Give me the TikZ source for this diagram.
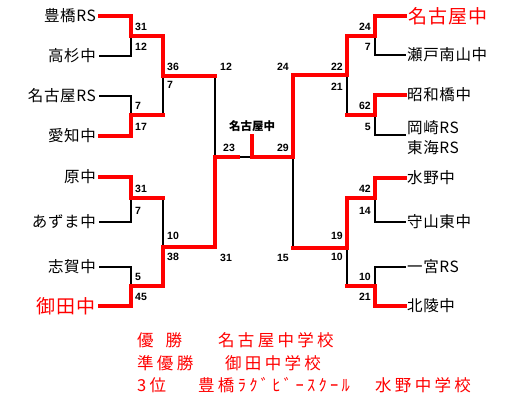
\documentclass[tikz,border=0pt]{standalone}
\usepackage{fontspec}
\usepackage{xcolor}
\usetikzlibrary{positioning,calc}
\newfontfamily\teamfont{Noto Sans CJK JP}[LetterSpace=4]
\newfontfamily\champfont{Noto Sans CJK JP}[LetterSpace=6]
\newfontfamily\resultfont{Noto Sans CJK JP}[LetterSpace=20]
\newfontfamily\finalfont{Noto Sans CJK JP}
\newfontfamily\scorefont{Liberation Sans}
\definecolor{winred}{HTML}{FF0000}
\tikzset{
  team/.style={inner sep=0pt,font=\teamfont\fontsize{15.5}{20}\selectfont},
  lteam/.style={team,anchor=east},
  rteam/.style={team,anchor=west,align=left},
  lchamp/.style={inner sep=0pt,anchor=east,text=winred,
                 font=\champfont\fontsize{19}{19}\selectfont},
  rchamp/.style={lchamp,anchor=west},
  score/.style={inner sep=0pt,font=\scorefont\bfseries\fontsize{10.5}{11}\selectfont},
  lscore/.style={score,anchor=west},
  rscore/.style={score,anchor=east},
  finalname/.style={inner sep=0pt,font=\finalfont\bfseries\fontsize{11.5}{12}\selectfont},
  result/.style={inner sep=0pt,anchor=west,text=winred,
                 font=\resultfont\fontsize{16.5}{17}\selectfont},
  winline/.style={draw=winred,line width=3.2pt,line cap=rect},
  loseline/.style={draw=black,line width=2.4pt,line cap=rect}
}

\begin{document}
\begin{tikzpicture}[x=1pt,y=-1pt]
    \fill[white] (0,0) rectangle (521,400);
    \useasboundingbox (0,0) rectangle (521,400);

    % first round line ends
    \coordinate (L1) at (100,16);
    \coordinate (L2) at (100,56);
    \coordinate (L3) at (100,96);
    \coordinate (L4) at (100,136);
    \coordinate (L5) at (100,177);
    \coordinate (L6) at (100,222);
    \coordinate (L7) at (100,267);
    \coordinate (L8) at (100,306);
    \coordinate (R1) at (405,16);
    \coordinate (R2) at (405,55);
    \coordinate (R3) at (405,95);
    \coordinate (R4) at (405,135);
    \coordinate (R5) at (405,178);
    \coordinate (R6) at (405,222);
    \coordinate (R7) at (405,267);
    \coordinate (R8) at (405,306);
    % junctions
    \coordinate (La) at (131,36);
    \coordinate (Lb) at (131,115);
    \coordinate (Lc) at (131,198);
    \coordinate (Ld) at (131,286);
    \coordinate (Le) at (163,76);
    \coordinate (Lf) at (163,247);
    \coordinate (Lg) at (215,157);
    \coordinate (Ra) at (375,36);
    \coordinate (Rb) at (375,115);
    \coordinate (Rc) at (375,198);
    \coordinate (Rd) at (375,286);
    \coordinate (Re) at (347,75);
    \coordinate (Rf) at (347,248);
    \coordinate (Rg) at (293,157);
    \coordinate (Fs) at (238,157);
    \coordinate (F) at (252,157);
    \coordinate (Fw) at (252,136);

    \draw[loseline] (L2) -| (La);
    \draw[loseline] (L3) -| (Lb);
    \draw[loseline] (Lb -| Le) -- (Le);
    \draw[loseline] (L6) -| (Lc);
    \draw[loseline] (Lc -| Lf) -- (Lf);
    \draw[loseline] (L7) -| (Ld);
    \draw[loseline] (Le -| Lg) -- (Lg);
    \draw[loseline] (Fs) -- (F);
    \draw[loseline] (R2) -| (Ra);
    \draw[loseline] (R4) -| (Rb);
    \draw[loseline] (Rb -| Re) -- (Re);
    \draw[loseline] (R6) -| (Rc);
    \draw[loseline] (R7) -| (Rd);
    \draw[loseline] (Rd -| Rf) -- (Rf);
    \draw[loseline] (Rf -| Rg) -- (Rg);

    \draw[winline] (L1) -| (La) -| (Le) -- (Le -| Lg);
    \draw[winline] (L4) -| (Lb) -- (Lb -| Le);
    \draw[winline] (L5) -| (Lc) -- (Lc -| Lf);
    \draw[winline] (L8) -| (Ld) -| (Lf) -- (Lf -| Lg) -- (Lg) -- (Fs);
    \draw[winline] (R1) -| (Ra) -| (Re) -- (Re -| Rg) -- (Rg) -- (F) -- (Fw);
    \draw[winline] (R3) -| (Rb) -- (Rb -| Re);
    \draw[winline] (R5) -| (Rc) -| (Rf) -- (Rf -| Rg);
    \draw[winline] (R8) -| (Rd) -- (Rd -| Rf);

    % teams
    \node[lteam] (toyohashi) at ([xshift=-4pt]L1) {豊橋RS};
    \node[lteam] (takasugi) at ([xshift=-4pt]L2) {高杉中};
    \node[lteam] (nagoyars) at ([xshift=-4pt]L3) {名古屋RS};
    \node[lteam] (aichi) at ([xshift=-4pt]L4) {愛知中};
    \node[lteam] (hara) at ([xshift=-4pt]L5) {原中};
    \node[lteam] (azuma) at ([xshift=-4pt]L6) {あずま中};
    \node[lteam] (shiga) at ([xshift=-4pt]L7) {志賀中};
    \node[lchamp] (onda) at ([xshift=-4pt]L8) {御田中};
    \node[rchamp] (nagoya) at ([xshift=3pt]R1) {名古屋中};
    \node[rteam] (seto) at ([xshift=2pt]R2) {瀬戸南山中};
    \node[rteam] (showa) at ([xshift=2pt]R3) {昭和橋中};
    \node[rteam] (okazaki) at ([xshift=2pt,yshift=-3pt]R4) {岡崎RS\\東海RS};
    \node[rteam] (mizuno) at ([xshift=2pt]R5) {水野中};
    \node[rteam] (moriyama) at ([xshift=2pt]R6) {守山東中};
    \node[rteam] (ichinomiya) at ([xshift=2pt]R7) {一宮RS};
    \node[rteam] (hokuryo) at ([xshift=2pt]R8) {北陵中};

    % scores
    \node[lscore] (s1) at (135,27) {31};
    \node[lscore] (s2) at (135,47) {12};
    \node[lscore] (s3) at (135,106) {7};
    \node[lscore] (s4) at (135,127) {17};
    \node[lscore] (s5) at (167,67) {36};
    \node[lscore] (s6) at (167,85) {7};
    \node[lscore] (s7) at (135,189) {31};
    \node[lscore] (s8) at (135,211) {7};
    \node[lscore] (s9) at (135,277) {5};
    \node[lscore] (s10) at (135,297) {45};
    \node[lscore] (s11) at (167,236) {10};
    \node[lscore] (s12) at (167,257) {38};
    \node[lscore] (s13) at (220,67) {12};
    \node[lscore] (s14) at (220,258) {31};
    \node[lscore] (s15) at (223,148) {23};
    \node[rscore] (s16) at (371,27) {24};
    \node[rscore] (s17) at (371,47) {7};
    \node[rscore] (s18) at (371,106) {62};
    \node[rscore] (s19) at (371,127) {5};
    \node[rscore] (s20) at (343,67) {22};
    \node[rscore] (s21) at (343,87) {21};
    \node[rscore] (s22) at (371,189) {42};
    \node[rscore] (s23) at (371,211) {14};
    \node[rscore] (s24) at (371,277) {10};
    \node[rscore] (s25) at (371,297) {21};
    \node[rscore] (s26) at (343,236) {19};
    \node[rscore] (s27) at (343,257) {10};
    \node[rscore] (s28) at (289,67) {24};
    \node[rscore] (s29) at (289,258) {15};
    \node[rscore] (s30) at (289,148) {29};
    \node[finalname] (winner) at (252,126) {名古屋中};

    % results
    \node[result] (yusho) at (137,340) {優\hspace{12pt}勝};
    \node[result] (yushoname) at (218,340) {名古屋中学校};
    \node[result] (junyusho) at (137,363) {準優勝};
    \node[result] (junname) at (225,363) {御田中学校};
    \node[result] (sani) at (137,385) {3位};
    \node[result] (saniname) at (198,385) {豊橋ﾗｸﾞﾋﾞｰｽｸｰﾙ};
    \node[result] (saniname2) at (375,385) {水野中学校};
  \end{tikzpicture}
\end{document}
